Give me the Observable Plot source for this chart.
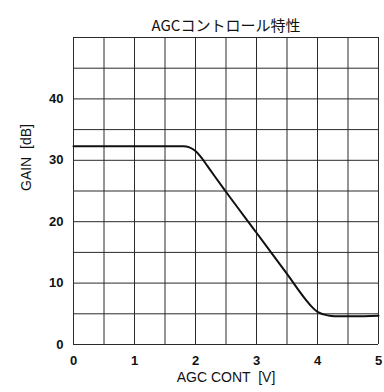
<!DOCTYPE html>
<html>
<head>
<meta charset="utf-8">
<script src="https://cdn.jsdelivr.net/npm/d3@7"></script>
<script src="https://cdn.jsdelivr.net/npm/@observablehq/plot@0.6"></script>
<style>
  html, body { margin: 0; padding: 0; background: #fff; }
</style>
</head>
<body>
<div id="chart"></div>
<script>
const title = "AGCコントロール特性";
const xLabel = "AGC CONT  [V]";
const yLabel = "GAIN  [dB]";
const xTicks = [0, 1, 2, 3, 4, 5];
const yTicks = [0, 10, 20, 30, 40];
const xGrid = [0, 0.5, 1, 1.5, 2, 2.5, 3, 3.5, 4, 4.5, 5];
const yGrid = [0, 5, 10, 15, 20, 25, 30, 35, 40, 45, 50];
const voltage = [0, 0.5, 1.0, 1.5, 1.8, 1.9, 2.0, 2.1, 2.2, 2.3, 2.49, 3.0, 3.5, 3.8, 3.9, 4.0, 4.1, 4.2, 4.35, 4.6, 5.0];
const gain    = [32.3, 32.3, 32.3, 32.3, 32.3, 32.1, 31.5, 30.4, 29.0, 27.6, 25.0, 18.2, 11.5, 7.4, 6.2, 5.3, 4.9, 4.7, 4.6, 4.6, 4.7];

const data = voltage.map((v, i) => ({v, g: gain[i]}));
const font = "'Liberation Sans', Arial, sans-serif";

const chart = Plot.plot({
  width: 384,
  height: 392,
  marginLeft: 73,
  marginRight: 6,
  marginTop: 37,
  marginBottom: 48,
  style: {fontFamily: font, background: "#fff", color: "#111"},
  x: {domain: [0, 5]},
  y: {domain: [0, 50]},
  marks: [
    Plot.ruleX(xGrid, {x: d => d, stroke: "#2a2a2a", strokeWidth: 1}),
    Plot.ruleY(yGrid, {y: d => d, stroke: "#2a2a2a", strokeWidth: 1}),
    Plot.line(data, {x: "v", y: "g", curve: "monotone-x", stroke: "#111", strokeWidth: 2}),
    Plot.axisX({ticks: xTicks, tickFormat: "d", tickSize: 0, tickPadding: 11, fontSize: 13, fontWeight: "bold", label: null}),
    Plot.axisY({ticks: yTicks, tickFormat: "d", tickSize: 0, tickPadding: 10, fontSize: 13, fontWeight: "bold", label: null}),
    Plot.text([title], {frameAnchor: "top", dy: -17, fontSize: 15, fontFamily: "'Noto Sans CJK JP', sans-serif"}),
    Plot.text([xLabel], {frameAnchor: "bottom", dy: 37, fontSize: 14}),
    Plot.text([yLabel], {frameAnchor: "left", dx: -47, rotate: -90, fontSize: 14})
  ]
});
document.getElementById("chart").appendChild(chart);
</script>
</body>
</html>
